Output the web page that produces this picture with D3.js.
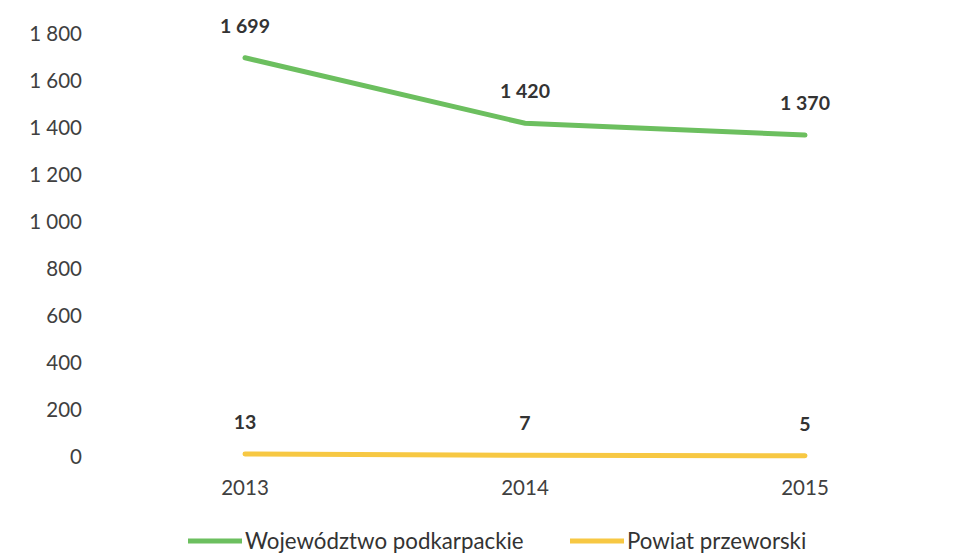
<!DOCTYPE html>
<html><head><meta charset="utf-8">
<script src="https://cdn.jsdelivr.net/npm/d3@7"></script>
<style>body{margin:0;background:#fff}svg{display:block}</style>
</head><body>
<script>
const years = ["2013","2014","2015"];
const wojewodztwo = [1699, 1420, 1370];
const powiat = [13, 7, 5];
const yTicks = [0,200,400,600,800,1000,1200,1400,1600,1800];
const seriesNames = ["Województwo podkarpackie","Powiat przeworski"];
const colors = ["#6cbf5f","#f7c843"];

const W=961,H=553;
const svg=d3.select("body").append("svg").attr("width",W).attr("height",H);
const font="Lato, 'Open Sans', sans-serif";
const x=d3.scaleBand().domain(years).range([105,945]);
const y=d3.scaleLinear().domain([0,1800]).range([457,34]);
const fmt=v=>d3.format(",")(v).replace(/,/g," ");

const yAxis=svg.append("g").attr("transform","translate(82,0)")
  .call(d3.axisLeft(y).tickValues(yTicks).tickSize(0).tickPadding(0).tickFormat(fmt));
yAxis.select(".domain").remove();
yAxis.selectAll("text").attr("font-family",font).attr("font-size",20.5).attr("fill","#404040");

const xAxis=svg.append("g").attr("transform","translate(0,480)")
  .call(d3.axisBottom(x).tickSize(0).tickPadding(0));
xAxis.select(".domain").remove();
xAxis.selectAll("text").attr("font-family",font).attr("font-size",20.5).attr("fill","#404040");

const cx=d=>x(d)+x.bandwidth()/2;
const series=[wojewodztwo,powiat];
const line=d3.line().x((d,i)=>cx(years[i])).y(d=>y(d));
series.forEach((s,k)=>{
  svg.append("path").datum(s).attr("d",line).attr("fill","none")
    .attr("stroke",colors[k]).attr("stroke-width",5).attr("stroke-linecap","round");
  svg.selectAll(null).data(s).enter().append("text")
    .attr("x",(d,i)=>cx(years[i])).attr("y",d=>y(d)-25)
    .attr("text-anchor","middle").attr("font-family",font).attr("font-weight","bold")
    .attr("font-size",19.5).attr("fill","#333").text(fmt);
});

const lg=[{x:188,name:seriesNames[0],c:colors[0]},{x:570,name:seriesNames[1],c:colors[1]}];
lg.forEach(l=>{
  svg.append("line").attr("x1",l.x).attr("x2",l.x+54).attr("y1",541).attr("y2",541)
    .attr("stroke",l.c).attr("stroke-width",5);
  svg.append("text").attr("x",l.x+57).attr("y",549).attr("font-family",font)
    .attr("font-size",22.3).attr("fill","#333").text(l.name);
});
</script>
</body></html>
